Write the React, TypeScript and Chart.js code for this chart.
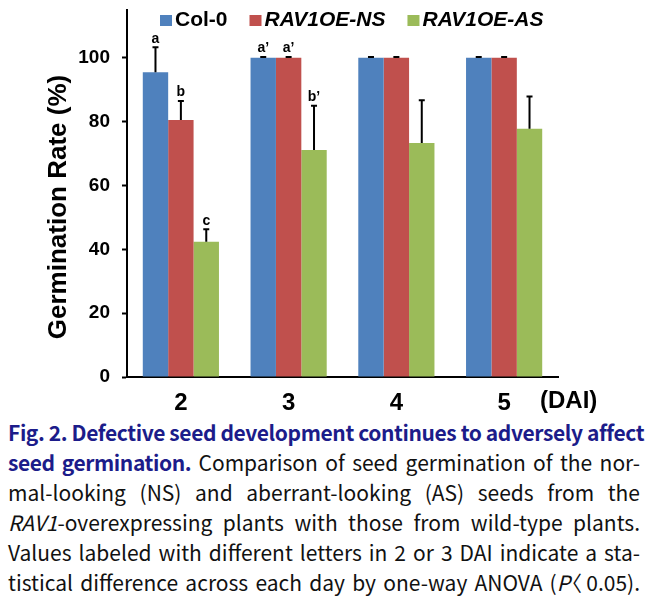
import React, { useEffect, useRef } from "react";
import { Chart, registerables } from "chart.js";

Chart.register(...registerables);

const categories = ["2", "3", "4", "5"];
const seriesNames = ["Col-0", "RAV1OE-NS", "RAV1OE-AS"];
const col0Values = [95.5, 100, 100, 100];
const nsValues = [80.5, 100, 100, 100];
const asValues = [42.4, 71.1, 73.3, 77.8];
const col0Err = [7.8, 0.3, 0.3, 0.3];
const nsErr = [6.0, 0.3, 0.3, 0.3];
const asErr = [3.9, 13.9, 13.4, 10.1];
const col0Letters = ["a", "a\u2019", "", ""];
const nsLetters = ["b", "a\u2019", "", ""];
const asLetters = ["c", "b\u2019", "", ""];
const yTickValues = [0, 20, 40, 60, 80, 100];
const yMax = 115;
const colors = ["#4F81BD", "#C0504D", "#9BBB59"];
const italicLegend = [false, true, true];
const yTitle = "Germination Rate (%)";
const xUnit = "(DAI)";

const FONT = "'Liberation Sans', Arial, sans-serif";

const errs = [col0Err, nsErr, asErr];
const letters = [col0Letters, nsLetters, asLetters];

const overlayPlugin = {
  id: "overlay",
  afterDatasetsDraw(chart: any) {
    const ctx = chart.ctx;
    const yScale = chart.scales.y;
    ctx.save();
    chart.data.datasets.forEach((ds: any, di: number) => {
      const meta = chart.getDatasetMeta(di);
      meta.data.forEach((bar: any, i: number) => {
        const v = ds.data[i];
        const top = yScale.getPixelForValue(v + errs[di][i]);
        const base = bar.y;
        ctx.strokeStyle = "#000";
        ctx.lineWidth = 2;
        ctx.beginPath();
        ctx.moveTo(bar.x, base);
        ctx.lineTo(bar.x, top);
        ctx.moveTo(bar.x - 3, top);
        ctx.lineTo(bar.x + 3, top);
        ctx.stroke();
        const lab = letters[di][i];
        if (lab) {
          ctx.fillStyle = "#000";
          ctx.font = `bold 14px ${FONT}`;
          ctx.textAlign = "center";
          ctx.textBaseline = "alphabetic";
          ctx.fillText(lab, bar.x, top - 4.5);
        }
      });
    });
    ctx.restore();
  },
  afterDraw(chart: any) {
    const ctx = chart.ctx;
    const area = chart.chartArea;
    ctx.save();
    ctx.translate(58.5, 207);
    ctx.rotate(-Math.PI / 2);
    ctx.fillStyle = "#000";
    ctx.font = `bold 26px ${FONT}`;
    ctx.textAlign = "center";
    ctx.textBaseline = "middle";
    ctx.fillText(yTitle, 0, 0);
    ctx.restore();

    ctx.save();
    ctx.fillStyle = "#000";
    ctx.font = `bold 24px ${FONT}`;
    ctx.textAlign = "left";
    ctx.textBaseline = "top";
    ctx.fillText(xUnit, area.right - 18, area.bottom + 12);
    ctx.restore();

    ctx.save();
    let x = 160;
    const cy = 20;
    seriesNames.forEach((name, i) => {
      ctx.fillStyle = colors[i];
      ctx.fillRect(x, cy - 5, 12, 11);
      ctx.fillStyle = "#000";
      ctx.font = `${italicLegend[i] ? "italic " : ""}bold 21px ${FONT}`;
      ctx.textAlign = "left";
      ctx.textBaseline = "middle";
      const tx = x + 15;
      ctx.fillText(name, tx, cy);
      x = tx + ctx.measureText(name).width + 22;
    });
    ctx.restore();
  },
};

export default function App() {
  const ref = useRef<HTMLCanvasElement>(null);
  useEffect(() => {
    if (!ref.current) return;
    const chart = new Chart(ref.current, {
      type: "bar",
      data: {
        labels: categories,
        datasets: [col0Values, nsValues, asValues].map((d, i) => ({
          label: seriesNames[i],
          data: d,
          backgroundColor: colors[i],
          borderWidth: 0,
          categoryPercentage: 0.707,
          barPercentage: 1.0,
        })),
      },
      options: {
        responsive: false,
        animation: false,
        devicePixelRatio: 1,
        layout: { autoPadding: false, padding: { top: 10, right: 103, bottom: 0, left: 0 } },
        plugins: {
          legend: { display: false },
          tooltip: { enabled: false },
          title: { display: false },
        },
        scales: {
          x: {
            grid: { display: true, drawOnChartArea: false, drawTicks: false },
            border: { display: true, color: "#000", width: 2 },
            ticks: {
              color: "#000",
              font: { family: FONT, size: 24, weight: "bold" },
              padding: 12,
            },
            afterFit: (s: any) => {
              s.height = 38;
              s.paddingLeft = 0;
              s.paddingRight = 0;
            },
          },
          y: {
            min: 0,
            max: yMax,
            grid: {
              display: true,
              drawOnChartArea: false,
              drawTicks: true,
              tickLength: 5,
              tickColor: "#000",
              tickWidth: 2,
            },
            border: { display: true, color: "#000", width: 2 },
            ticks: {
              color: "#000",
              font: { family: FONT, size: 19, weight: "bold" },
              padding: 12,
            },
            afterBuildTicks: (s: any) => {
              s.ticks = yTickValues.map((v) => ({ value: v }));
            },
            afterFit: (s: any) => {
              s.width = 127;
              s.paddingTop = 0;
              s.paddingBottom = 0;
            },
          },
        },
      },
      plugins: [overlayPlugin],
    } as any);
    return () => chart.destroy();
  }, []);

  const cap: React.CSSProperties = {
    fontFamily: "'Noto Sans CJK KR', 'Noto Sans', sans-serif",
    fontSize: 21,
    lineHeight: "30px",
    color: "#111",
    textAlign: "justify",
    textAlignLast: "justify" as any,
    whiteSpace: "nowrap",
  };
  const blue: React.CSSProperties = { color: "#1c1c8a", fontWeight: 600, letterSpacing: "-0.4px" };

  return (
    <div style={{ position: "absolute", left: 0, top: 0, width: 661, height: 603, background: "#fff" }}>
      <canvas ref={ref} width={661} height={415} style={{ display: "block" }} />
      <div style={{ position: "absolute", left: 8, top: 417, width: 632 }}>
        <div style={cap}>
          <span style={blue}>Fig. 2. Defective seed development continues to adversely affect</span>
        </div>
        <div style={cap}>
          <span style={blue}>seed germination.</span> Comparison of seed germination of the nor-
        </div>
        <div style={cap}>mal-looking (NS) and aberrant-looking (AS) seeds from the</div>
        <div style={cap}>
          <i>RAV1</i>-overexpressing plants with those from wild-type plants.
        </div>
        <div style={cap}>Values labeled with different letters in 2 or 3 DAI indicate a sta-</div>
        <div style={cap}>
          tistical difference across each day by one-way ANOVA (<i>P</i>
          <span style={{ display: "inline-block", marginLeft: -9, marginRight: -3 }}>〈</span> 0.05).
        </div>
      </div>
    </div>
  );
}
